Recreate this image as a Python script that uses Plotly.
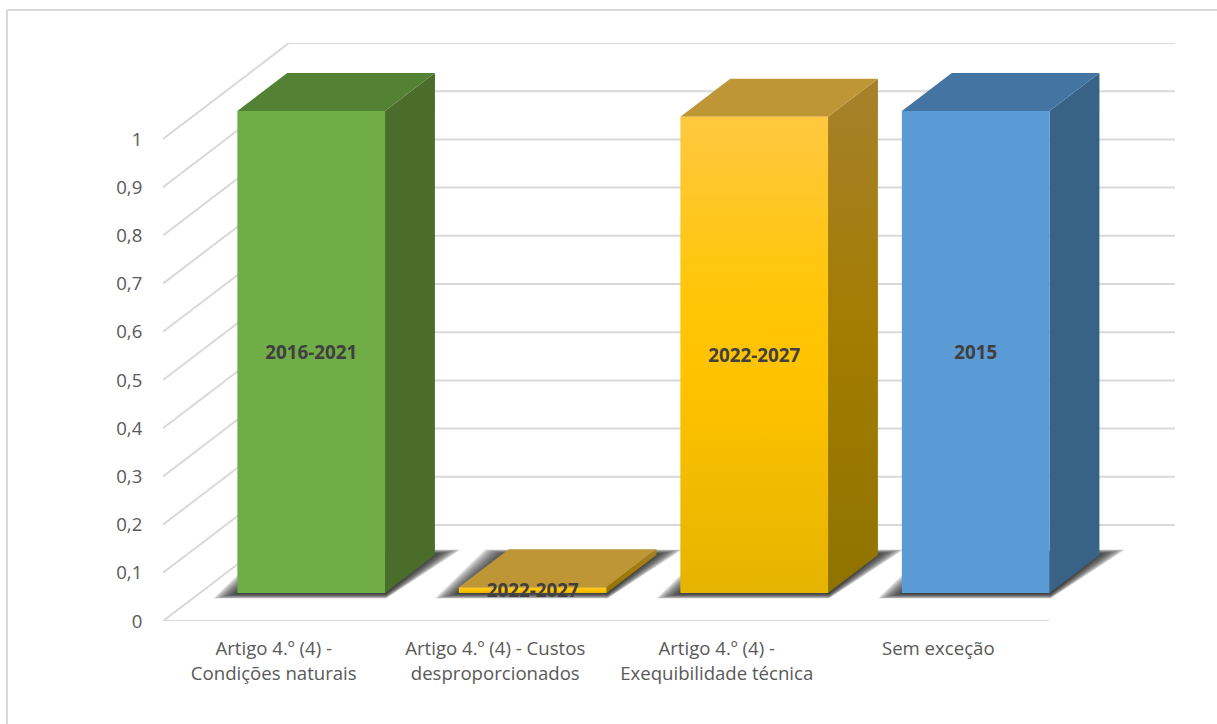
import plotly.graph_objects as go

# ---- data ----
categories = ["Artigo 4.º (4) -<br>Condições naturais",
              "Artigo 4.º (4) - Custos<br>desproporcionados",
              "Artigo 4.º (4) -<br>Exequibilidade técnica",
              "Sem exceção"]
values = [1.0, 0.012, 0.988, 1.0]
bar_labels = ["2016-2021", "2022-2027", "2022-2027", "2015"]
y_ticks = [0, 0.1, 0.2, 0.3, 0.4, 0.5, 0.6, 0.7, 0.8, 0.9, 1]
y_tick_labels = ["0", "0,1", "0,2", "0,3", "0,4", "0,5", "0,6", "0,7", "0,8", "0,9", "1"]

# ---- oblique projection of (category, value, depth) on the 2D axes ----
W, H = 1217, 724
L, R, T, B = 163, 1175, 43, 621
CAT_PX, VAL_PX = 221.5, 482.0
DX, DY = 126 / CAT_PX, 96 / VAL_PX
Z0, Z1 = 28 / 96, 66 / 96
GAP = 1 / 6
BAR_SHIFT = 0.7 / CAT_PX
FONT = "Open Sans"
TICK_SIZE = 18.6
LABEL_SIZE = 18.8
LABEL_DY = 2.5 / VAL_PX


def proj(c, v, z):
    return c + DX * z, v + DY * z


def poly(points):
    xy = [proj(*p) for p in points]
    return [p[0] for p in xy] + [xy[0][0]], [p[1] for p in xy] + [xy[0][1]]


fig = go.Figure()


def add_line(points, color="#d9d9d9", width=2):
    xs, ys = zip(*[proj(*p) for p in points])
    fig.add_trace(go.Scatter(x=xs, y=ys, mode="lines", hoverinfo="skip",
                             line=dict(color=color, width=width)))


def add_face(points, fill):
    xs, ys = poly(points)
    kw = dict(fillcolor=fill) if isinstance(fill, str) else dict(
        fillgradient=dict(type="vertical", colorscale=fill))
    fig.add_trace(go.Scatter(x=xs, y=ys, mode="lines", fill="toself", hoverinfo="skip",
                             line=dict(width=0), **kw))


# wall and floor gridlines
n = len(categories)
for v in y_ticks:
    add_line([(0, v, 0), (0, v, 1), (n, v, 1)])
add_line([(0, 0, 0), (n, 0, 0)])

gold_front = [[0, "#E5B400"], [0.45, "#FFC200"], [0.65, "#FFC60A"], [1, "#FFC840"]]
gold_side = [[0, "#8F7300"], [0.5, "#A37C00"], [1, "#A6812C"]]
cols = [
    dict(front="#70AD47", side="#4A6D2C", top="#548235"),
    dict(front=gold_front, side=gold_side, top="#BF9636"),
    dict(front=gold_front, side=gold_side, top="#BF9636"),
    dict(front="#5B9BD5", side="#386386", top="#4374A2"),
]

# soft shadows on the floor
LAYERS = 14
for i, val in enumerate(values):
    c0, c1 = i + GAP + BAR_SHIFT, i + 1 - GAP + BAR_SHIFT
    for k in range(LAYERS):
        t = 1 - (k / (LAYERS - 1)) ** 1.2  # 1 = outermost
        left = (1 + 23 * t) / CAT_PX
        right = (1 + 25 * t) / CAT_PX
        bot = (1 + 4.5 * t) / VAL_PX
        xs, ys = poly([(c0 - left, -bot, Z0), (c1 + 1 / CAT_PX, -bot, Z0),
                       (c1 + right, bot, Z1), (c0 - left, bot, Z1)])
        fig.add_trace(go.Scatter(x=xs, y=ys, mode="lines", fill="toself", hoverinfo="skip",
                                 line=dict(width=0), fillcolor="rgba(0,0,0,0.085)"))

# bars
for i, val in enumerate(values):
    c0, c1 = i + GAP + BAR_SHIFT, i + 1 - GAP + BAR_SHIFT
    add_face([(c1, 0, Z0), (c1, 0, Z1), (c1, val, Z1), (c1, val, Z0)], cols[i]["side"])
    add_face([(c0, val, Z0), (c1, val, Z0), (c1, val, Z1), (c0, val, Z1)], cols[i]["top"])
    add_face([(c0, 0, Z0), (c1, 0, Z0), (c1, val, Z0), (c0, val, Z0)], cols[i]["front"])

# data labels
lx, ly = zip(*[proj(i + 0.5 + BAR_SHIFT, v / 2 - LABEL_DY, Z0) for i, v in enumerate(values)])
fig.add_trace(go.Scatter(x=lx, y=ly, mode="text", text=bar_labels, textposition="middle center",
                         hoverinfo="skip", cliponaxis=False,
                         textfont=dict(family=FONT, size=LABEL_SIZE, color="#404040", weight="bold")))

# chart frame (top and left edges)
frame = [dict(type="line", xref="paper", yref="paper", layer="below",
              x0=(7 - L) / (R - L), x1=(W - L) / (R - L),
              y0=(B - 10) / (B - T), y1=(B - 10) / (B - T),
              line=dict(color="#d9d9d9", width=2)),
         dict(type="line", xref="paper", yref="paper", layer="below",
              x0=(7 - L) / (R - L), x1=(7 - L) / (R - L),
              y0=(B - H) / (B - T), y1=(B - 10) / (B - T),
              line=dict(color="#d9d9d9", width=2))]

fig.update_layout(
    width=W, height=H, autosize=False, showlegend=False,
    paper_bgcolor="white", plot_bgcolor="rgba(0,0,0,0)",
    margin=dict(l=L, r=W - R, t=T, b=H - B),
    font=dict(family=FONT, size=TICK_SIZE, color="#595959"),
    xaxis=dict(range=[0, (R - L) / CAT_PX], showgrid=False, zeroline=False, showline=False,
               tickmode="array", tickvals=[i + 0.5 for i in range(n)], ticktext=categories,
               ticks="outside", ticklen=11, tickcolor="rgba(0,0,0,0)",
               tickangle=0, tickfont=dict(size=TICK_SIZE, color="#595959")),
    yaxis=dict(range=[0, (B - T) / VAL_PX], showgrid=False, zeroline=False, showline=False,
               tickmode="array", tickvals=y_ticks, ticktext=y_tick_labels,
               ticks="outside", ticklen=16, tickcolor="rgba(0,0,0,0)",
               tickfont=dict(size=TICK_SIZE, color="#595959")),
    shapes=frame,
)
fig.write_html("out.html", config={"displayModeBar": False},
               post_script="document.body.style.margin='0';")
